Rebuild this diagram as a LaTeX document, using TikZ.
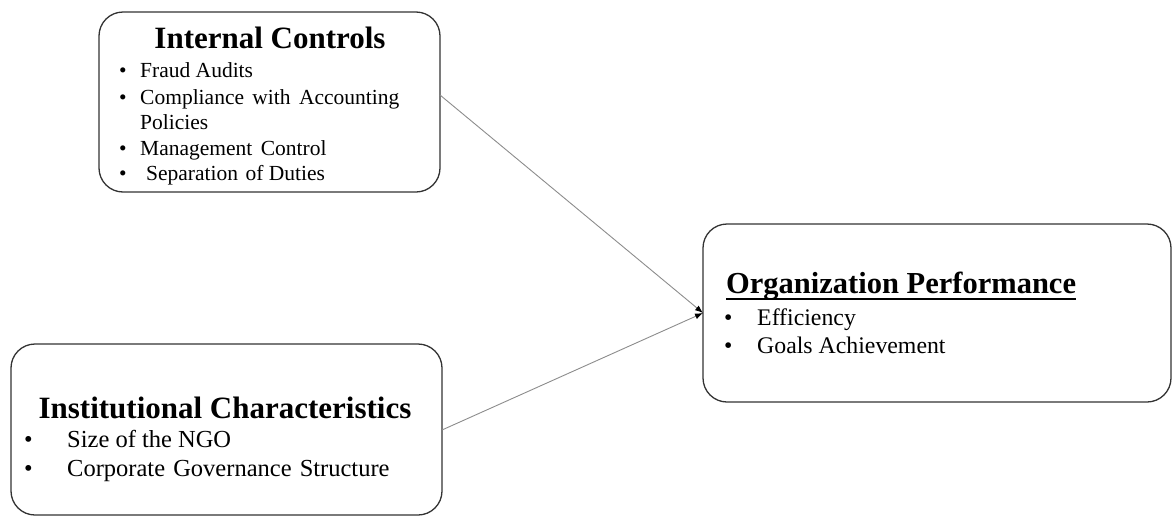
\documentclass[tikz,border=0pt]{standalone}
\usepackage{fontspec}
\setmainfont{Liberation Serif}
\usetikzlibrary{arrows.meta}
\tikzset{
  box/.style={draw=black!80, line width=1.3pt, rounded corners=24pt, fill=white},
  ttl/.style={anchor=base, inner sep=0pt, font=\fontsize{31}{31}\selectfont\bfseries},
  itm/.style={anchor=base west, inner sep=0pt},
  conn/.style={draw=black!45, line width=0.9pt, -{Latex[length=8pt,width=6pt,black]}},
}
\begin{document}
\begin{tikzpicture}[x=1pt,y=-1pt]
\useasboundingbox (0,0) rectangle (1173,517);
% boxes
\draw[box] (99,12) rectangle (440,192);
\draw[box] (11,344) rectangle (442,515);
\draw[box] (703,224) rectangle (1171,402);
\coordinate (icR) at (440,95);
\coordinate (inR) at (442,430);
\coordinate (opL) at (703,313);
% Internal Controls
\node[ttl] (t1) at (270,48) {Internal Controls};
\begin{scope}[every node/.style={itm, font=\fontsize{21.5}{21.5}\selectfont}]
\node (b1) at (119,77) {\textbullet};
\node (i1) at (140,77) {Fraud Audits};
\node (b2) at (119,104) {\textbullet};
\node (i2) at (140,104) {Compliance\hspace{3pt} with\hspace{3pt} Accounting};
\node (i3) at (140,129) {Policies};
\node (b4) at (119,155) {\textbullet};
\node (i4) at (140,155) {Management\hspace{3pt} Control};
\node (b5) at (119,180) {\textbullet};
\node (i5) at (146,180) {Separation\hspace{2pt} of Duties};
\end{scope}
% Institutional Characteristics
\node[ttl] (t2) at (225,418) {Institutional Characteristics};
\begin{scope}[every node/.style={itm, font=\fontsize{24.5}{24.5}\selectfont}]
\node (c1) at (24,447) {\textbullet};
\node (j1) at (67,447) {Size of the NGO};
\node (c2) at (24,476) {\textbullet};
\node (j2) at (67,476) {Corporate\hspace{2pt} Governance\hspace{2pt} Structure};
\end{scope}
% Organization Performance
\node[ttl, anchor=base west, font=\fontsize{30.5}{30.5}\selectfont\bfseries] (t3) at (726,293) {Organization Performance};
\draw[line width=2pt] (t3.base west) ++(0,6) -- ([yshift=-6pt]t3.base east);
\begin{scope}[every node/.style={itm, font=\fontsize{23.8}{23.8}\selectfont}]
\node (d1) at (724,325) {\textbullet};
\node (k1) at (757,325) {Efficiency};
\node (d2) at (724,353) {\textbullet};
\node (k2) at (757,353) {Goals Achievement};
\end{scope}
% connectors
\draw[conn] (icR) -- (opL);
\draw[conn] (inR) -- (opL);
\end{tikzpicture}
\end{document}
